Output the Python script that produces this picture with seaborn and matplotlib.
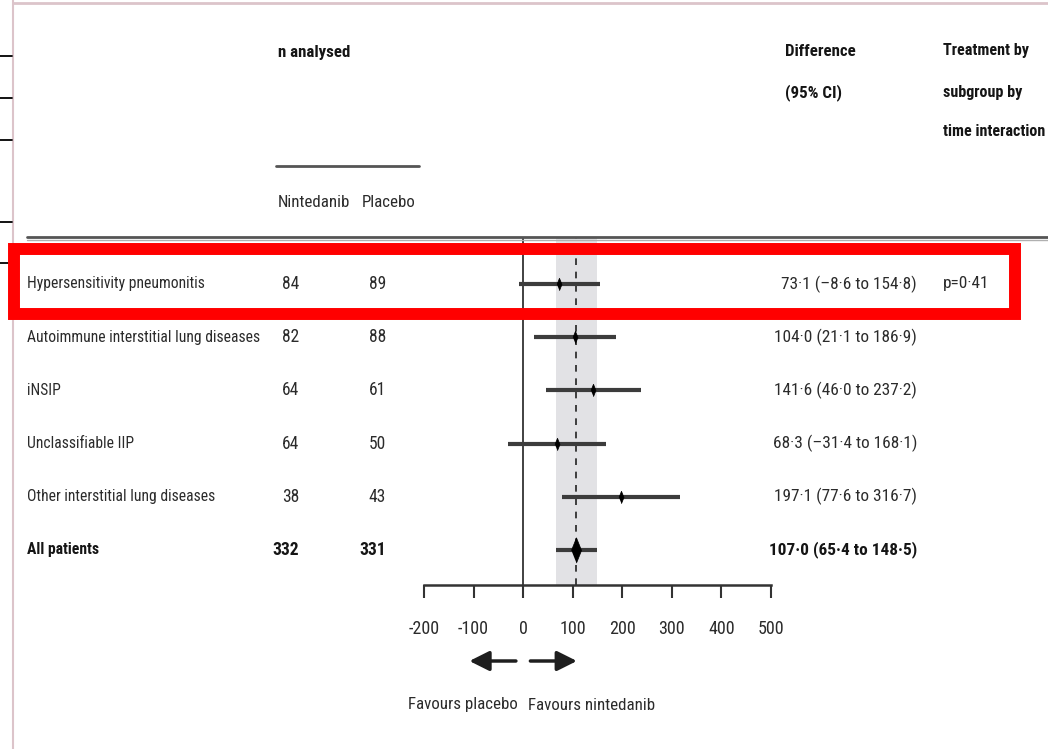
import os
import pandas as pd
import seaborn as sns
import matplotlib.pyplot as plt
from matplotlib import font_manager
from matplotlib.font_manager import FontProperties
from matplotlib.lines import Line2D
from matplotlib.patches import Rectangle
from matplotlib.transforms import blended_transform_factory

# subgroup data
labels = ["Hypersensitivity pneumonitis", "Autoimmune interstitial lung diseases",
          "iNSIP", "Unclassifiable IIP", "Other interstitial lung diseases", "All patients"]
n_nintedanib = [84, 82, 64, 64, 38, 332]
n_placebo = [89, 88, 61, 50, 43, 331]
diff = [73.1, 104.0, 141.6, 68.3, 197.1, 107.0]
ci_low = [-8.6, 21.1, 46.0, -31.4, 77.6, 65.4]
ci_high = [154.8, 186.9, 237.2, 168.1, 316.7, 148.5]
interaction_p = ["p=0·41", "", "", "", "", ""]
x_ticks = [-200, -100, 0, 100, 200, 300, 400, 500]

df = pd.DataFrame({"label": labels, "nint": n_nintedanib, "plac": n_placebo,
                   "diff": diff, "lo": ci_low, "hi": ci_high, "row": range(len(labels))})

sns.set_style("white")


# look for a narrow / condensed face, the original uses a very narrow type
def find_face(bold):
    skip = ["Italic", "Oblique", "Light", "Thin", "Black", "Semi", "Extra", "Medium", "Mono"]
    prefs = ["RobotoCondensed", "LiberationSansNarrow", "DejaVuSansCondensed", "Condensed", "Narrow"]
    files = []
    for f in font_manager.fontManager.ttflist:
        base = os.path.basename(f.fname)
        if not ("Condensed" in base or "Narrow" in base):
            continue
        if any(k in base for k in skip):
            continue
        if ("Bold" in base) != bold:
            continue
        files.append(f.fname)
    for p in prefs:
        for fn in files:
            if p in os.path.basename(fn):
                return FontProperties(fname=fn)
    return FontProperties(family="Liberation Sans", weight="bold" if bold else "normal")


fp_reg = find_face(False)
fp_bold = find_face(True)

W, H = 1048, 749
fig = plt.figure(figsize=(W / 100, H / 100), dpi=100)

# scale the type so the longest label keeps about the width it has in the original
rend = fig.canvas.get_renderer()
probe = fig.text(0, 0, labels[1], fontproperties=fp_reg, fontsize=10)
base = 10 * 232 / probe.get_window_extent(rend).width
probe.remove()


def fp(bold=False, scale=1.0):
    p = (fp_bold if bold else fp_reg).copy()
    p.set_size(base * scale)
    return p


# forest plot axes, x from -200 to 500
ax = fig.add_axes([424 / W, 1 - 585 / H, 347 / W, (585 - 237) / H])
ax.set_xlim(-200, 500)
ax.set_ylim(5.658, -0.883)

txt = "#2b2b2b"
dark = "#151515"

# pooled CI band and reference lines
ax.axvspan(65.4, 148.5, color="#e2e2e5", zorder=0, lw=0)
ax.axvline(0, color="#333333", lw=1.3, zorder=1)
ax.axvline(107.0, color="#222222", lw=1.2, ls=(0, (4, 4)), zorder=1)

# confidence intervals
ax.hlines(df["row"], df["lo"], df["hi"], color="#3c3c3c", lw=3, zorder=2)

diamond = [(-0.4, 0), (0, 1), (0.4, 0), (0, -1)]
sub = df.iloc[:-1]
tot = df.iloc[-1:]
sns.scatterplot(data=sub, x="diff", y="row", marker=diamond, s=80, color="black",
                edgecolor="black", linewidth=0.5, ax=ax, zorder=3, legend=False)
sns.scatterplot(data=tot, x="diff", y="row", marker=diamond, s=330, color="black",
                edgecolor="black", linewidth=0.5, ax=ax, zorder=3, legend=False)

# axis styling
for s in ["top", "right", "left"]:
    ax.spines[s].set_visible(False)
ax.spines["bottom"].set_color("#333333")
ax.spines["bottom"].set_linewidth(1.8)
ax.set_yticks([])
ax.set_xticks(x_ticks)
ax.set_xticklabels([str(t) for t in x_ticks])
ax.tick_params(axis="x", direction="out", length=9.5, width=1.5, color="#333333",
               labelcolor=txt, pad=16, bottom=True)
for lbl in ax.get_xticklabels():
    lbl.set_fontproperties(fp(scale=1.15))
ax.set_xlabel("")
ax.set_ylabel("")
ax.patch.set_alpha(0)

# table text next to the plot
tr = blended_transform_factory(fig.transFigure, ax.transData)
for i, r in df.iterrows():
    bold = r["label"] == "All patients"
    col = dark if bold else txt
    ax.text(27 / W, i, r["label"], transform=tr, ha="left", va="center",
            fontproperties=fp(bold), color=col)
    ax.text(299 / W, i, str(r["nint"]), transform=tr, ha="right", va="center",
            fontproperties=fp(bold, 1.12), color=col)
    ax.text(386 / W, i, str(r["plac"]), transform=tr, ha="right", va="center",
            fontproperties=fp(bold, 1.12), color=col)
    lo = f"{r['lo']:.1f}".replace("-", "–").replace(".", "·")
    hi = f"{r['hi']:.1f}".replace(".", "·")
    d = f"{r['diff']:.1f}".replace(".", "·")
    ax.text(917 / W, i, f"{d} ({lo} to {hi})", transform=tr, ha="right", va="center",
            fontproperties=fp(bold, 1.1), color=col)
    if interaction_p[i]:
        ax.text(943 / W, i, interaction_p[i], transform=tr, ha="left", va="center",
                fontproperties=fp(False, 1.1), color=txt)


def ftext(px, py, s, bold=True, ha="left", col=dark, scale=1.03):
    fig.text(px / W, 1 - py / H, s, ha=ha, va="center", color=col, fontproperties=fp(bold, scale))


# column headers
ftext(278, 52, "n analysed", scale=1.08)
ftext(278, 203, "Nintedanib", bold=False, col=txt, scale=1.08)
ftext(362, 203, "Placebo", bold=False, col=txt, scale=1.08)
ftext(785, 51, "Difference", scale=1.08)
ftext(785, 93, "(95% CI)", scale=1.08)
ftext(943, 51, "Treatment by")
ftext(943, 92, "subgroup by")
ftext(943, 132, "time interaction")

# rules
fig.add_artist(Line2D([276 / W, 419 / W], [1 - 166 / H] * 2, color="#555555", lw=2))
fig.add_artist(Line2D([27 / W, 1.0], [1 - 237 / H] * 2, color="#555555", lw=2))
fig.add_artist(Line2D([27 / W, 1.0], [1 - 240 / H] * 2, color="#b0b0b0", lw=1))

# favours arrows
ay = 1 - 661 / H
ax.annotate("", xy=(-114, ay), xytext=(-9, ay), xycoords=("data", "figure fraction"),
            arrowprops=dict(arrowstyle="-|>", color="#1e1e1e", lw=2.5, mutation_scale=30))
ax.annotate("", xy=(114, ay), xytext=(9, ay), xycoords=("data", "figure fraction"),
            arrowprops=dict(arrowstyle="-|>", color="#1e1e1e", lw=2.5, mutation_scale=30))
ftext(518, 705, "Favours placebo", bold=False, ha="right", col=txt, scale=1.08)
ftext(528, 705, "Favours nintedanib", bold=False, col=txt, scale=1.08)

# screenshot frame bits
fig.add_artist(Line2D([13 / W, 13 / W], [0, 1], color="#dcc4ca", lw=1.5))
fig.add_artist(Line2D([13 / W, 1], [1 - 3 / H] * 2, color="#dcc4ca", lw=2))
for py in [56, 98, 140, 222, 263]:
    fig.add_artist(Line2D([0, 12 / W], [1 - py / H] * 2, color="black", lw=1.3))

# red highlight box
fig.add_artist(Rectangle((14 / W, 1 - 314 / H), 1001 / W, 65 / H, transform=fig.transFigure,
                         fill=False, edgecolor="#ff0000", lw=8.6, zorder=10))

fig.savefig("out.png", dpi=100)
